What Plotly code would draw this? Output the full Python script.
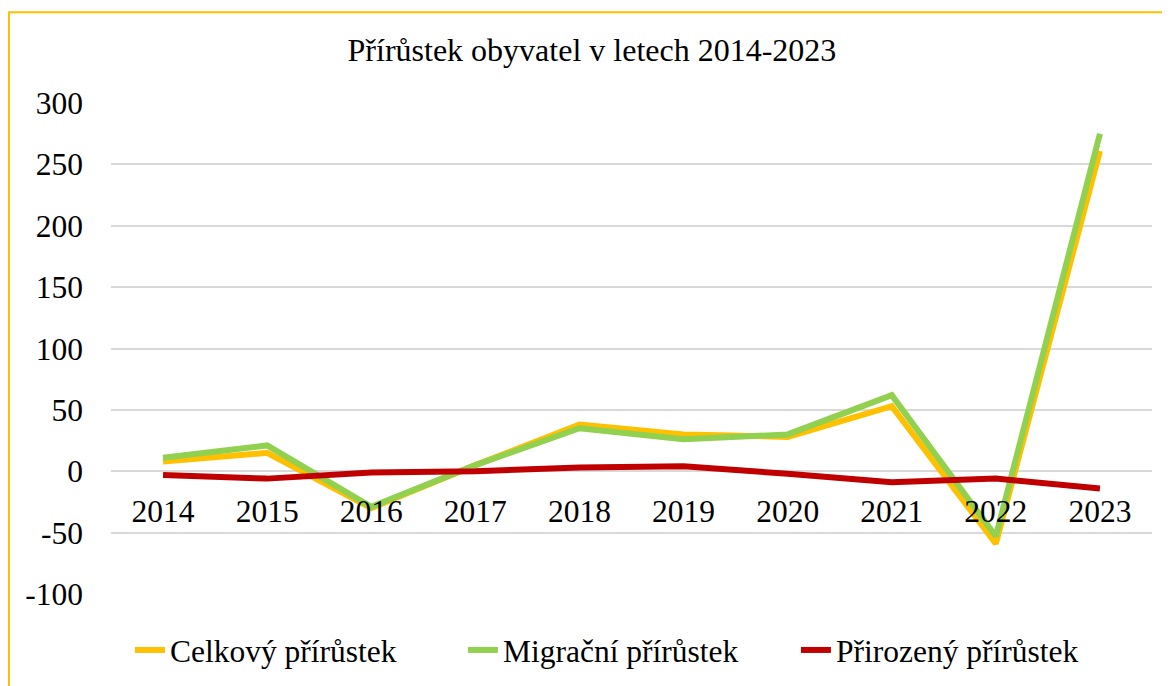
import plotly.graph_objects as go

years = ['2014', '2015', '2016', '2017', '2018', '2019', '2020', '2021', '2022', '2023']
celkovy = [8, 15, -30, 5, 38, 30, 28, 53, -59, 261]
migracni = [11, 21, -29, 5, 35, 26, 30, 62, -53, 275]
prirozeny = [-3, -6, -1, 0, 3, 4, -2, -9, -6, -14]

y_ticks = [-100, -50, 0, 50, 100, 150, 200, 250, 300]
y_labels = [str(v) for v in y_ticks]  # plain hyphen minus, like the original

FONT = 'Liberation Serif, Times New Roman, serif'

fig = go.Figure()

series = [
    ('Celkový přírůstek', celkovy, '#FFC000'),
    ('Migrační přírůstek', migracni, '#92D050'),
    ('Přirozený přírůstek', prirozeny, '#C00000'),
]
for name, vals, color in series:
    fig.add_trace(
        go.Scatter(
            x=years,
            y=vals,
            name=name,
            mode='lines',
            line=dict(color=color, width=6),
        )
    )

# yellow frame around the whole chart (runs past the bottom edge)
fig.add_shape(
    type='rect', xref='paper', yref='paper',
    x0=-0.098, x1=1.0106, y0=-0.3, y1=1.185,
    line=dict(color='#FFC000', width=2),
)

# margins account for the 8px body margin of the html page
fig.update_layout(
    width=1170,
    height=686,
    margin=dict(l=103, r=26, t=95, b=100, autoexpand=False),
    paper_bgcolor='white',
    plot_bgcolor='white',
    font=dict(family=FONT, size=31.5, color='black'),
    title=dict(
        text='Přírůstek obyvatel v letech 2014-2023',
        x=0.462, xanchor='center', xref='paper',
        y=1 - 42 / 686, yanchor='middle',
        font=dict(family=FONT, size=32, color='black'),
    ),
    showlegend=True,
    legend=dict(
        orientation='h',
        x=0.0182, xanchor='left',
        y=-0.114, yanchor='middle',
        entrywidth=288,
        entrywidthmode='pixels',
        font=dict(family=FONT, size=31.5, color='black'),
    ),
    xaxis=dict(
        type='category',
        range=[-0.5, 9.5],
        anchor='free',
        position=0.25,
        showline=False,
        showgrid=False,
        zeroline=False,
        ticks='',
        ticklabelstandoff=18,
        tickfont=dict(family=FONT, size=31.5, color='black'),
    ),
    yaxis=dict(
        range=[-100, 300],
        tickvals=y_ticks,
        ticktext=y_labels,
        showgrid=True,
        gridcolor='#D9D9D9',
        gridwidth=1.5,
        zeroline=False,
        showline=False,
        ticks='',
        ticklabelstandoff=27,
        tickfont=dict(family=FONT, size=31.5, color='black'),
    ),
)

fig.write_html("out.html")
